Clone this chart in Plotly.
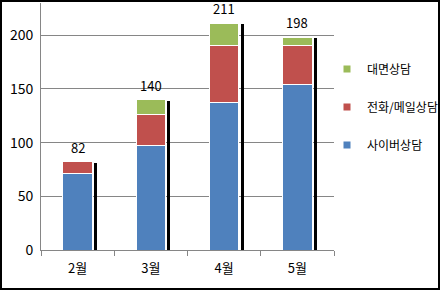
import plotly.graph_objects as go

categories = ["2월", "3월", "4월", "5월"]
cyber = [71, 97, 137, 154]
phone = [11, 29, 53, 36]
face = [0, 14, 21, 8]
totals = [82, 140, 211, 198]
series_names = ["사이버상담", "전화/메일상담", "대면상담"]
colors = ["#4F81BD", "#C0504D", "#9BBB59"]

W, H = 440, 290
L, R, T, B = 41, 106, 3, 40
pw, ph = W - L - R, H - T - B

fig = go.Figure()
idx = list(range(len(categories)))

# shadow lines (behind)
fig.add_trace(go.Bar(x=idx, y=[t - 1 for t in totals], xaxis="x2", width=0.04, offset=0.225,
                     marker=dict(color="black", line=dict(width=0)), showlegend=False,
                     hoverinfo="skip"))

for name, vals, c in zip(series_names, [cyber, phone, face], colors):
    fig.add_trace(go.Bar(x=categories, y=vals, name=name, width=0.4,
                         marker=dict(color=c, line=dict(color="white", width=1)),
                         showlegend=False))

# legend entries (small square markers), top-down: 대면, 전화/메일, 사이버
for rank, (name, c) in enumerate(zip(series_names[::-1], colors[::-1])):
    fig.add_trace(go.Scatter(x=[None], y=[None], mode="markers", name=name,
                             marker=dict(symbol="square", size=7, color=c),
                             legendgroup=name, legendrank=rank + 1))

for c, t in zip(categories, totals):
    fig.add_annotation(x=c, y=t, text=str(t), showarrow=False, yanchor="bottom",
                       yshift=3, font=dict(size=13, color="black", family="Noto Sans CJK KR"))

fx = lambda px: (px - L) / pw
fy = lambda py: (H - B - py) / ph
fig.add_shape(type="rect", xref="paper", yref="paper",
              x0=fx(1), x1=fx(439), y0=fy(289), y1=fy(1),
              line=dict(color="black", width=2), layer="above")

fig.update_layout(
    width=W, height=H, margin=dict(l=L, r=R, t=T, b=B, autoexpand=False),
    barmode="stack", bargap=0.6,
    paper_bgcolor="white", plot_bgcolor="white",
    font=dict(family="Noto Sans CJK KR", size=13, color="black"),
    legend=dict(x=fx(443), xanchor="right", y=fy(107), yanchor="middle",
                traceorder="grouped", tracegroupgap=19, bgcolor="rgba(0,0,0,0)",
                font=dict(size=12), itemwidth=30),
    xaxis=dict(type="category", range=[-0.5, 3.5], showline=True, linecolor="#868686",
               ticks="outside", tickson="boundaries", ticklen=5, tickcolor="#868686",
               showgrid=False, tickfont=dict(size=13), ticklabelstandoff=6),
    xaxis2=dict(overlaying="x", range=[-0.5, 3.5], visible=False),
    yaxis=dict(range=[0, 230], tickvals=[0, 50, 100, 150, 200], showline=True,
               linecolor="#868686", gridcolor="#868686", gridwidth=1,
               zeroline=False, ticks="", tickfont=dict(size=14), ticklabelstandoff=4),
)

fig.write_html("out.html")
